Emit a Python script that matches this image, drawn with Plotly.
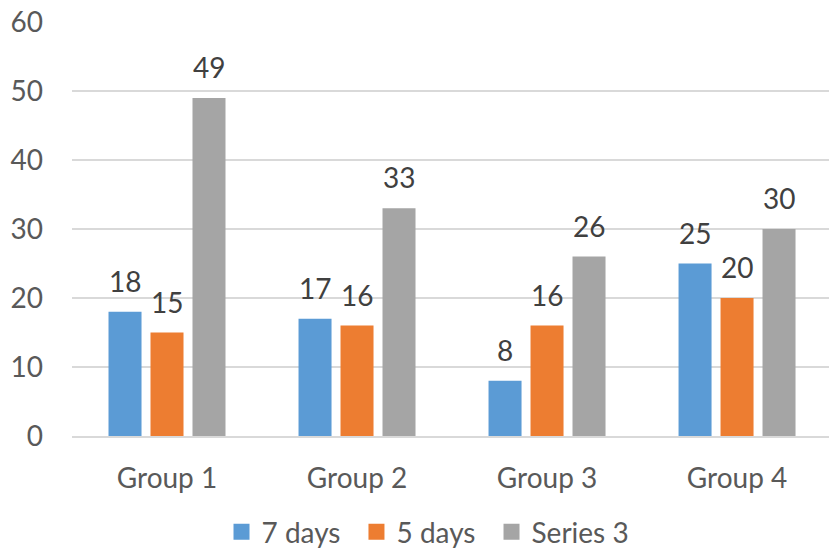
import plotly.graph_objects as go

categories = ["Group 1", "Group 2", "Group 3", "Group 4"]
series_names = ["7 days", "5 days", "Series 3"]
s1 = [18, 17, 8, 25]
s2 = [15, 16, 16, 20]
s3 = [49, 33, 26, 30]
colors = ["#5B9BD5", "#ED7D31", "#A5A5A5"]
y_ticks = [0, 10, 20, 30, 40, 50, 60]

FONT = "Lato"
LABEL_COLOR = "#404040"
TICK_COLOR = "#595959"
FS = 28

legend_ids = ["legend", "legend2", "legend3"]
legend_x = [0.2672, 0.4300, 0.5929]

fig = go.Figure()
all_series = [s1, s2, s3]
for name, vals, col, lid in zip(series_names, all_series, colors, legend_ids):
    fig.add_trace(go.Bar(x=categories, y=vals, name=name, marker_color=col,
                         marker_line_width=0, showlegend=False))
    # legend proxies with larger square swatches
    fig.add_trace(go.Scatter(x=[None], y=[None], mode="markers", name=name, legend=lid,
                             marker=dict(symbol="square", size=16, color=col)))

annotations = []
slot_px = 42
for i, vals in enumerate(all_series):
    for c, v in zip(categories, vals):
        annotations.append(dict(x=c, y=v, text=str(v), showarrow=False,
                                xanchor="center", yanchor="bottom",
                                xshift=(i - 1) * slot_px, yshift=12,
                                font=dict(family=FONT, size=FS, color=LABEL_COLOR)))

legend_common = dict(orientation="h", xref="container", yref="container",
                     xanchor="left", y=0.038, yanchor="middle",
                     font=dict(family=FONT, size=FS, color=TICK_COLOR),
                     itemclick=False, bgcolor="rgba(0,0,0,0)")

layout_legends = {lid: dict(x=lx, **legend_common) for lid, lx in zip(legend_ids, legend_x)}

fig.update_layout(
    width=829, height=553,
    margin=dict(l=72, r=0, t=22, b=117),
    paper_bgcolor="white", plot_bgcolor="white",
    barmode="group", bargap=0.337, bargroupgap=0.214,
    font=dict(family=FONT, size=FS, color=TICK_COLOR),
    annotations=annotations,
    showlegend=True,
    xaxis=dict(range=[-0.5, 3.484], showgrid=False, showline=True, linecolor="#D9D9D9",
               linewidth=1.5, ticks="", ticklabelstandoff=17,
               tickfont=dict(family=FONT, size=FS, color=TICK_COLOR), fixedrange=True),
    yaxis=dict(range=[0, 60], tickvals=y_ticks, showgrid=True, gridcolor="#D9D9D9",
               gridwidth=1.5, zeroline=False, showline=False, ticks="",
               ticklabelstandoff=28,
               tickfont=dict(family=FONT, size=FS, color=TICK_COLOR), fixedrange=True),
    **layout_legends,
)

fig.write_html("out.html")
